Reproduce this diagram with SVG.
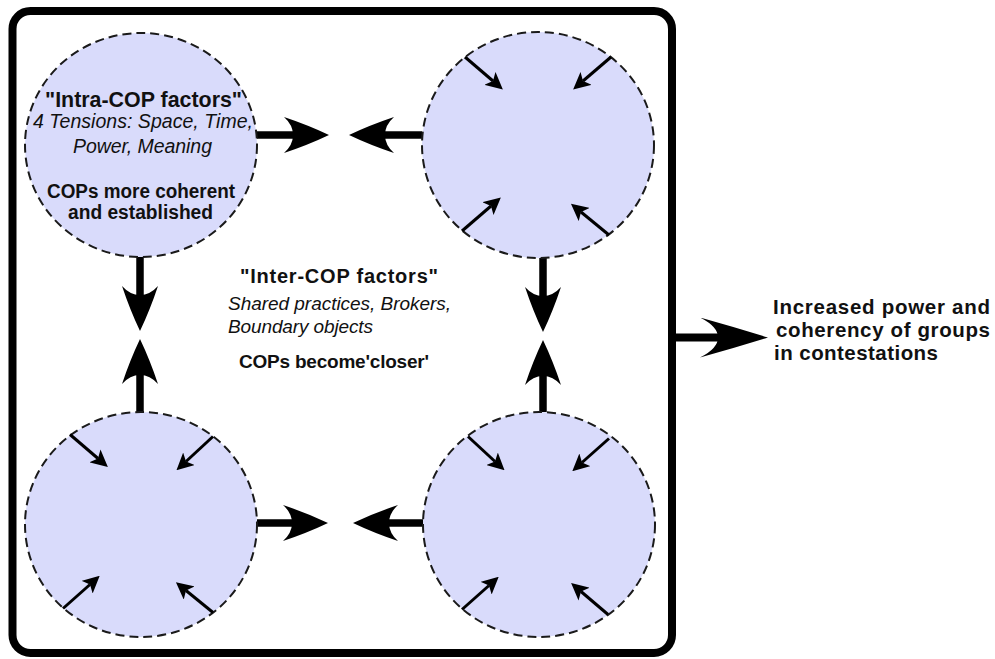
<svg xmlns="http://www.w3.org/2000/svg" width="995" height="659" viewBox="0 0 995 659">
<style>
  .frame { fill: #ffffff; stroke: #000000; stroke-width: 8; }
  .cop { fill: #d9dbfb; stroke: #1a1a1a; stroke-width: 2; stroke-dasharray: 9 5; }
  .big { fill: none; stroke: #000000; stroke-width: 7.5; }
  .out { fill: none; stroke: #000000; stroke-width: 8; }
  .small { fill: none; stroke: #000000; stroke-width: 3; }
  text { font-family: "Liberation Sans", Arial, sans-serif; fill: #111111; }
  .b { font-weight: bold; }
  .i { font-style: italic; }
</style>
<defs>
  <marker id="bigHead" markerUnits="userSpaceOnUse" viewBox="0 0 45 36" markerWidth="45" markerHeight="36" refX="9" refY="18" orient="auto">
    <path d="M0,0 Q24,8 45,18 Q24,28 0,36 Q9,28 9,18 Q9,8 0,0 Z" fill="#000000"/>
  </marker>
  <marker id="outHead" markerUnits="userSpaceOnUse" viewBox="0 0 68 40" markerWidth="68" markerHeight="40" refX="18" refY="20" orient="auto">
    <path d="M0,0 Q36,10 68,20 Q36,30 0,40 Q18,31 18,20 Q18,9 0,0 Z" fill="#000000"/>
  </marker>
  <marker id="smallHead" markerUnits="userSpaceOnUse" viewBox="0 0 17 17" markerWidth="17" markerHeight="17" refX="4" refY="8.5" orient="auto">
    <path d="M0,0 L17,8.5 L0,17 L4,8.5 Z" fill="#000000"/>
  </marker>
</defs>
<rect x="0" y="0" width="995" height="659" fill="#ffffff"/>
<g id="frame">
  <rect class="frame" x="12.5" y="11" width="659.5" height="642" rx="18" ry="18"/>
</g>
<g id="connectors">
  <line class="big" x1="257" y1="135" x2="293" y2="135" marker-end="url(#bigHead)"/>
  <line class="big" x1="422" y1="135" x2="385" y2="135" marker-end="url(#bigHead)"/>
  <line class="big" x1="140" y1="257" x2="140" y2="295" marker-end="url(#bigHead)"/>
  <line class="big" x1="140" y1="412" x2="140" y2="375" marker-end="url(#bigHead)"/>
  <line class="big" x1="543" y1="258" x2="543" y2="296" marker-end="url(#bigHead)"/>
  <line class="big" x1="543" y1="412" x2="543" y2="376" marker-end="url(#bigHead)"/>
  <line class="big" x1="257" y1="523" x2="292" y2="523" marker-end="url(#bigHead)"/>
  <line class="big" x1="423" y1="523" x2="389" y2="523" marker-end="url(#bigHead)"/>
  <line class="out" x1="676" y1="337.5" x2="718" y2="337.5" marker-end="url(#outHead)"/>
</g>
<g id="cop-top-left">
  <ellipse class="cop" cx="141" cy="145" rx="116" ry="112"/>
  <text class="b" x="143.5" y="106.5" font-size="22" text-anchor="middle" textLength="197" lengthAdjust="spacingAndGlyphs">"Intra-COP factors"</text>
  <text class="i" x="143" y="128" font-size="19.5" text-anchor="middle" textLength="220">4 Tensions: Space, Time,</text>
  <text class="i" x="142.5" y="153" font-size="19.5" text-anchor="middle" textLength="139">Power, Meaning</text>
  <text class="b" x="141" y="198" font-size="19.5" text-anchor="middle" textLength="188" lengthAdjust="spacingAndGlyphs">COPs more coherent</text>
  <text class="b" x="140.5" y="219" font-size="19.5" text-anchor="middle" textLength="145" lengthAdjust="spacingAndGlyphs">and established</text>
</g>
<g id="cop-top-right">
  <ellipse class="cop" cx="538" cy="145" rx="116" ry="113"/>
  <g transform="translate(538,145)">
    <line class="small" x1="-73" y1="-88" x2="-45" y2="-64" marker-end="url(#smallHead)"/>
    <line class="small" x1="73" y1="-88" x2="45" y2="-64" marker-end="url(#smallHead)"/>
    <line class="small" x1="-76" y1="86" x2="-47" y2="61" marker-end="url(#smallHead)"/>
    <line class="small" x1="71" y1="90" x2="43" y2="67" marker-end="url(#smallHead)"/>
  </g>
</g>
<g id="cop-bottom-left">
  <ellipse class="cop" cx="141" cy="524.5" rx="116" ry="112.5"/>
  <g transform="translate(141,524.5)">
    <line class="small" x1="-71" y1="-90" x2="-43" y2="-66" marker-end="url(#smallHead)"/>
    <line class="small" x1="72" y1="-88" x2="45" y2="-63" marker-end="url(#smallHead)"/>
    <line class="small" x1="-78" y1="84" x2="-51" y2="60" marker-end="url(#smallHead)"/>
    <line class="small" x1="72" y1="88" x2="45" y2="66" marker-end="url(#smallHead)"/>
  </g>
</g>
<g id="cop-bottom-right">
  <ellipse class="cop" cx="539" cy="524.5" rx="116" ry="112.5"/>
  <g transform="translate(539,524.5)">
    <line class="small" x1="-71" y1="-88" x2="-44" y2="-63" marker-end="url(#smallHead)"/>
    <line class="small" x1="70" y1="-86" x2="43" y2="-62" marker-end="url(#smallHead)"/>
    <line class="small" x1="-77" y1="85" x2="-50" y2="61" marker-end="url(#smallHead)"/>
    <line class="small" x1="69" y1="90" x2="42" y2="67" marker-end="url(#smallHead)"/>
  </g>
</g>
<g id="inter-cop-label">
  <text class="b" x="240" y="283" font-size="20" textLength="198">"Inter-COP factors"</text>
  <text class="i" x="228" y="310" font-size="19" textLength="223">Shared practices, Brokers,</text>
  <text class="i" x="228" y="333" font-size="19" textLength="145">Boundary objects</text>
  <text class="b" x="239" y="368" font-size="19" textLength="190">COPs become'closer'</text>
</g>
<g id="outcome">
  <text class="b" x="773" y="314" font-size="20.5" textLength="217">Increased power and</text>
  <text class="b" x="776" y="337" font-size="20.5" textLength="214">coherency of groups</text>
  <text class="b" x="774" y="360" font-size="20.5" textLength="164">in contestations</text>
</g>
</svg>
